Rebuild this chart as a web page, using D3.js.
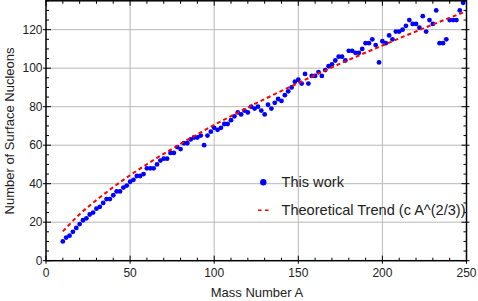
<!DOCTYPE html>
<html><head><meta charset="utf-8">
<script src="https://cdn.jsdelivr.net/npm/d3@7"></script>
<style>html,body{margin:0;padding:0;background:#fff;}svg{display:block;font-family:"Liberation Sans",Arial,sans-serif;}</style>
</head><body>
<svg id="c" width="478" height="301"></svg>
<script>
const massNumbers = [10,12,14,16,18,20,22,24,26,28,30,32,34,36,38,40,42,44,46,48,50,52,54,56,58,60,62,64,66,68,70,72,74,76,78,80,82,84,86,88,90,92,94,96,98,100,102,104,106,108,110,112,114,116,118,120,122,124,126,128,130,132,134,136,138,140,142,144,146,148,150,152,154,156,158,160,162,164,166,168,170,172,174,176,178,180,182,184,186,188,190,192,194,196,198,200,202,204,206,208,210,212,214,216,218,220,222,224,226,228,230,232,234,236,238,240,242,244,246,248];
const surfaceNucleons = [10,12,13,15,17,19,21,22,24,25,
27,28,30,32,32,34,36,36,38,39,
41,42,44,44,45,48,48,48,50,52,
53,53,56,56,59,58,61,61,63,64,
64,65,60,65,67,69,68,69,71,71,
73,75,77,76,78,77,80,79,80,78,
76,81,79,82,84,83,86,88,90,93,
94,92,97,92,96,96,98,96,99,101,
102,104,106,106,104,109,109,108,108,110,
113,113,115,112,103,114,113,117,115,119,
119,120,122,125,123,123,121,127,119,125,
123,130,113,113,115,125,125,125,130,134];
const trendA = [10,20,30,40,50,60,80,100,125,150,175,200,225,250];
const trendV = [15.2,24.1,31.5,38.2,44.4,50.1,60.7,70.5,81.8,92.3,102.4,111.8,120.9,129.6];
const xMajor = [0,50,100,150,200,250];
const yMajor = [0,20,40,60,80,100,120];
const legendLabels = ["This work","Theoretical Trend (c A^(2/3))"];
const xTitle = "Mass Number A";
const yTitle = "Number of Surface Nucleons";

const svg = d3.select("#c");
const L=46, R=466.5, T=0.8, B=260.7;
const x = d3.scaleLinear().domain([0,250]).range([L,R]);
const y = d3.scaleLinear().domain([0,135]).range([B,T]);

const g = svg.append("g");
g.selectAll("line.gx").data(xMajor.filter(v=>v>0&&v<250)).enter().append("line")
 .attr("x1",d=>x(d)).attr("x2",d=>x(d)).attr("y1",T).attr("y2",B)
 .attr("stroke","#b8b8b8").attr("stroke-width",1);
g.selectAll("line.gy").data(yMajor.filter(v=>v>0)).enter().append("line")
 .attr("y1",d=>y(d)).attr("y2",d=>y(d)).attr("x1",L).attr("x2",R)
 .attr("stroke","#b8b8b8").attr("stroke-width",1);

svg.append("clipPath").attr("id","clip").append("rect").attr("x",L).attr("y",T).attr("width",R-L).attr("height",B-T);
const plot = svg.append("g").attr("clip-path","url(#clip)");

plot.selectAll("circle").data(massNumbers).enter().append("circle")
 .attr("cx",(d)=>x(d)).attr("cy",(d,i)=>y(surfaceNucleons[i])).attr("r",2.4).attr("fill","#0000ff");

const line = d3.line().x(d=>x(d[0])).y(d=>y(d[1])).curve(d3.curveMonotoneX);
plot.append("path").datum(trendA.map((a,i)=>[a,trendV[i]])).attr("d",line)
 .attr("fill","none").attr("stroke","#ff0000").attr("stroke-width",2).attr("stroke-dasharray","4,3");

const xMinor = d3.range(0,251,10).filter(v=>!xMajor.includes(v));
const yMinor = d3.range(0,136,5).filter(v=>!yMajor.includes(v));
const ax = svg.append("g").attr("stroke","#000").attr("stroke-width",1);
function vt(arr,len,out){arr.forEach(v=>{ax.append("line").attr("x1",x(v)).attr("x2",x(v)).attr("y1",B+out).attr("y2",B-len);ax.append("line").attr("x1",x(v)).attr("x2",x(v)).attr("y1",T-out).attr("y2",T+len);});}
function ht(arr,len,out){arr.forEach(v=>{ax.append("line").attr("y1",y(v)).attr("y2",y(v)).attr("x1",L-out).attr("x2",L+len);ax.append("line").attr("y1",y(v)).attr("y2",y(v)).attr("x1",R+out).attr("x2",R-len);});}
vt(xMajor,5,3); vt(xMinor,3,0);
ht(yMajor,5,3); ht(yMinor,3,0);
svg.append("rect").attr("x",L).attr("y",T).attr("width",R-L).attr("height",B-T)
 .attr("fill","none").attr("stroke","#000").attr("stroke-width",1.5);

svg.selectAll("text.xl").data(xMajor).enter().append("text").attr("x",d=>x(d)).attr("y",276.5)
 .attr("text-anchor","middle").attr("font-size",12).attr("fill","#222").text(d=>d);
svg.selectAll("text.yl").data(yMajor).enter().append("text").attr("x",42.5).attr("y",d=>y(d)+4.3)
 .attr("text-anchor","end").attr("font-size",12).attr("fill","#222").text(d=>d);

svg.append("text").attr("x",257).attr("y",297).attr("text-anchor","middle").attr("font-size",13).attr("fill","#222").text(xTitle);
svg.append("text").attr("transform","translate(13.5,131) rotate(-90)").attr("text-anchor","middle").attr("font-size",13).attr("fill","#222").text(yTitle);

svg.append("circle").attr("cx",263.3).attr("cy",182.3).attr("r",3.2).attr("fill","#0000ff");
svg.append("text").attr("x",281.5).attr("y",187.3).attr("font-size",14.6).attr("fill","#222").text(legendLabels[0]);
svg.append("line").attr("x1",258).attr("x2",269).attr("y1",210.3).attr("y2",210.3).attr("stroke","#ff0000").attr("stroke-width",1.5).attr("stroke-dasharray","3.5,3.5");
svg.append("text").attr("x",281.5).attr("y",215.3).attr("font-size",14.6).attr("fill","#222").attr("textLength",184).attr("lengthAdjust","spacing").text(legendLabels[1]);
</script>
</body></html>
